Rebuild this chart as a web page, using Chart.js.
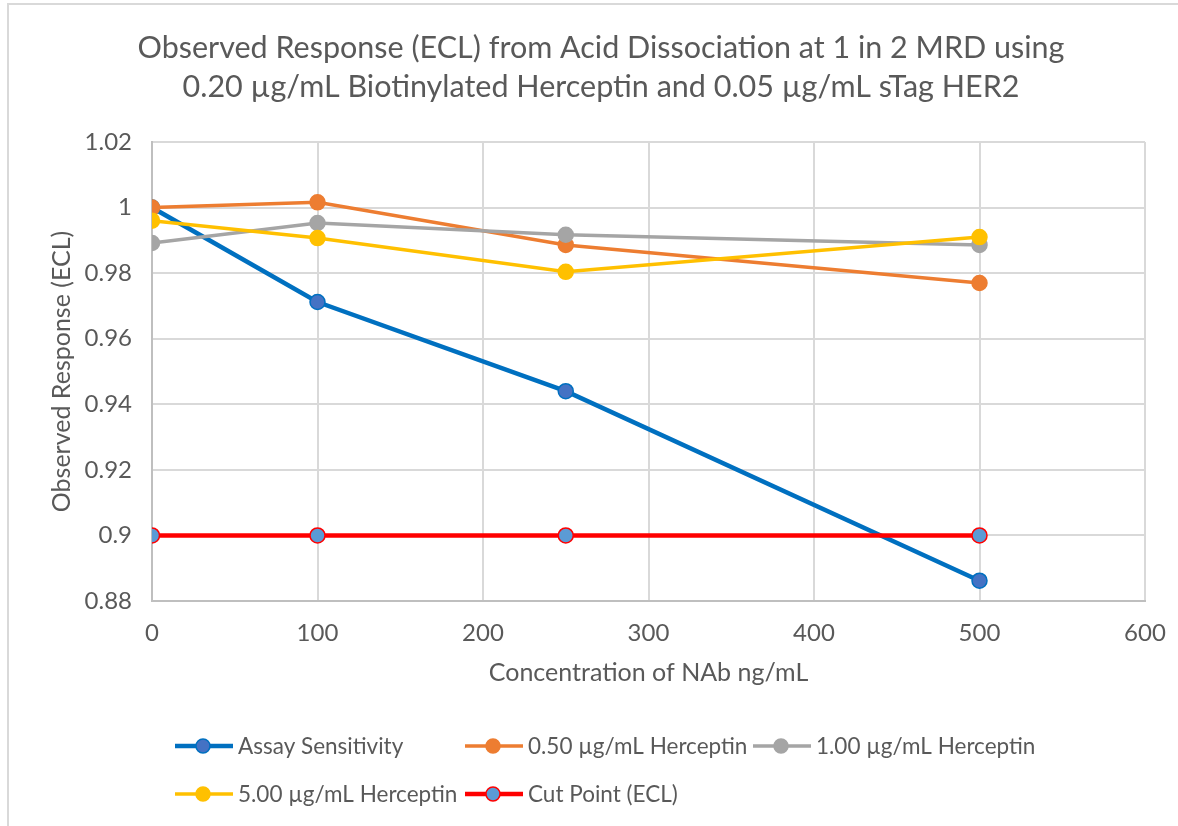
<!DOCTYPE html>
<html>
<head>
<meta charset="utf-8">
<script src="https://cdn.jsdelivr.net/npm/chart.js@4"></script>
<style>
html,body{margin:0;padding:0;background:#fff;width:1178px;height:826px;overflow:hidden;}
#frame{position:absolute;left:7px;top:3px;width:1300px;height:1000px;border-left:2px solid #d9d9d9;border-top:2px solid #d9d9d9;}
#wrap{position:absolute;left:0;top:0;width:1178px;height:826px;}
</style>
</head>
<body>
<div id="frame"></div>
<div id="wrap"><canvas id="c" width="1178" height="826"></canvas></div>
<script>
const titleLines = ["Observed Response (ECL) from Acid Dissociation at 1 in 2 MRD using", "0.20 \u00b5g/mL Biotinylated Herceptin and 0.05 \u00b5g/mL sTag HER2"];
const xTitle = "Concentration of NAb ng/mL";
const yTitle = "Observed Response (ECL)";
const concentrations = [0, 100, 250, 500];
const assaySensitivity = [1.000, 0.9712, 0.9440, 0.8862];
const herceptin050 = [1.000, 1.0016, 0.9886, 0.9770];
const herceptin100 = [0.9892, 0.9953, 0.9917, 0.9886];
const herceptin500 = [0.9960, 0.9907, 0.9804, 0.9910];
const cutPoint = [0.900, 0.900, 0.900, 0.900];
const seriesNames = ["Assay Sensitivity", "0.50 \u00b5g/mL Herceptin", "1.00 \u00b5g/mL Herceptin", "5.00 \u00b5g/mL Herceptin", "Cut Point (ECL)"];

const FONT = "Lato, 'Open Sans', sans-serif";
const TXT = "#595959";

function pts(vals){ return concentrations.map((x,i)=>({x:x,y:vals[i]})); }

const styles = [
  {line:"#0070c0", fill:"#4472c4", border:"#0070c0", w:4.5},
  {line:"#ed7d31", fill:"#ed7d31", border:"#ed7d31", w:3.5},
  {line:"#a5a5a5", fill:"#a5a5a5", border:"#a5a5a5", w:3.5},
  {line:"#ffc000", fill:"#ffc000", border:"#ffc000", w:3.5},
  {line:"#ff0000", fill:"#5b9bd5", border:"#ff0000", w:4.5}
];
const seriesData = [assaySensitivity, herceptin050, herceptin100, herceptin500, cutPoint];

const datasets = seriesData.map((vals,i)=>({
  label: seriesNames[i],
  data: pts(vals),
  borderColor: styles[i].line,
  backgroundColor: styles[i].fill,
  pointBackgroundColor: styles[i].fill,
  pointBorderColor: styles[i].border,
  pointBorderWidth: 1.5,
  pointRadius: 7.5,
  pointHoverRadius: 7.5,
  borderWidth: styles[i].w,
  tension: 0,
  order: 5 - i
}));

// legend / title placement (layout only)
const legendPos = [
  {x:175, y:746},{x:465, y:746},{x:753, y:746},
  {x:175, y:794},{x:465, y:794}
];
const titlePos = {x:601, y:48, lineGap:39};

const decorPlugin = {
  id: 'decor',
  afterDraw(chart){
    const ctx = chart.ctx;
    ctx.save();
    ctx.fillStyle = TXT;
    ctx.font = "30.5px " + FONT;
    ctx.textAlign = "center";
    ctx.textBaseline = "middle";
    titleLines.forEach((t,i)=>ctx.fillText(t, titlePos.x, titlePos.y + i*titlePos.lineGap));
    chart.data.datasets.forEach((ds,i)=>{
      const p = legendPos[i];
      ctx.strokeStyle = ds.borderColor;
      ctx.lineWidth = ds.borderWidth;
      ctx.beginPath(); ctx.moveTo(p.x, p.y); ctx.lineTo(p.x+58, p.y); ctx.stroke();
      ctx.beginPath(); ctx.arc(p.x+28, p.y, 7, 0, Math.PI*2);
      ctx.fillStyle = ds.pointBackgroundColor; ctx.fill();
      ctx.lineWidth = 1.5; ctx.strokeStyle = ds.pointBorderColor; ctx.stroke();
      ctx.fillStyle = TXT;
      ctx.font = "22.5px " + FONT;
      ctx.textBaseline = "middle";
      ctx.textAlign = "left";
      ctx.fillText(ds.label, p.x+63, p.y+1);
    });
    ctx.restore();
  }
};

new Chart(document.getElementById('c'), {
  type: 'line',
  data: { datasets: datasets },
  plugins: [decorPlugin],
  options: {
    responsive: false,
    animation: false,
    devicePixelRatio: 1,
    layout: { padding: { left: 43, right: 33, top: 142, bottom: 138 } },
    plugins: {
      legend: { display: false },
      tooltip: { enabled: false },
      title: { display: false }
    },
    scales: {
      x: {
        type: 'linear',
        min: 0, max: 600,
        afterFit: s => { s.height = 87; s.paddingRight = 0; s.paddingLeft = 0; },
        ticks: { stepSize: 100, color: TXT, font: { family: FONT, size: 24 }, padding: 18 },
        grid: { color: "#d9d9d9", lineWidth: 2, drawTicks: false },
        border: { color: "#bfbfbf", width: 2 },
        title: { display: true, text: xTitle, color: TXT, font: { family: FONT, size: 25 }, padding: { top: 0, bottom: 0 } }
      },
      y: {
        min: 0.88, max: 1.02,
        afterFit: s => { s.width = 109; s.paddingTop = 0; s.paddingBottom = 0; },
        ticks: { stepSize: 0.02, color: TXT, font: { family: FONT, size: 24 }, padding: 20,
          callback: v => String(Number(v.toFixed(2))) },
        grid: { color: "#d9d9d9", lineWidth: 2, drawTicks: false },
        border: { color: "#bfbfbf", width: 2 },
        title: { display: true, text: yTitle, color: TXT, font: { family: FONT, size: 25 }, padding: { top: 4, bottom: 4 } }
      }
    }
  }
});
</script>
</body>
</html>
